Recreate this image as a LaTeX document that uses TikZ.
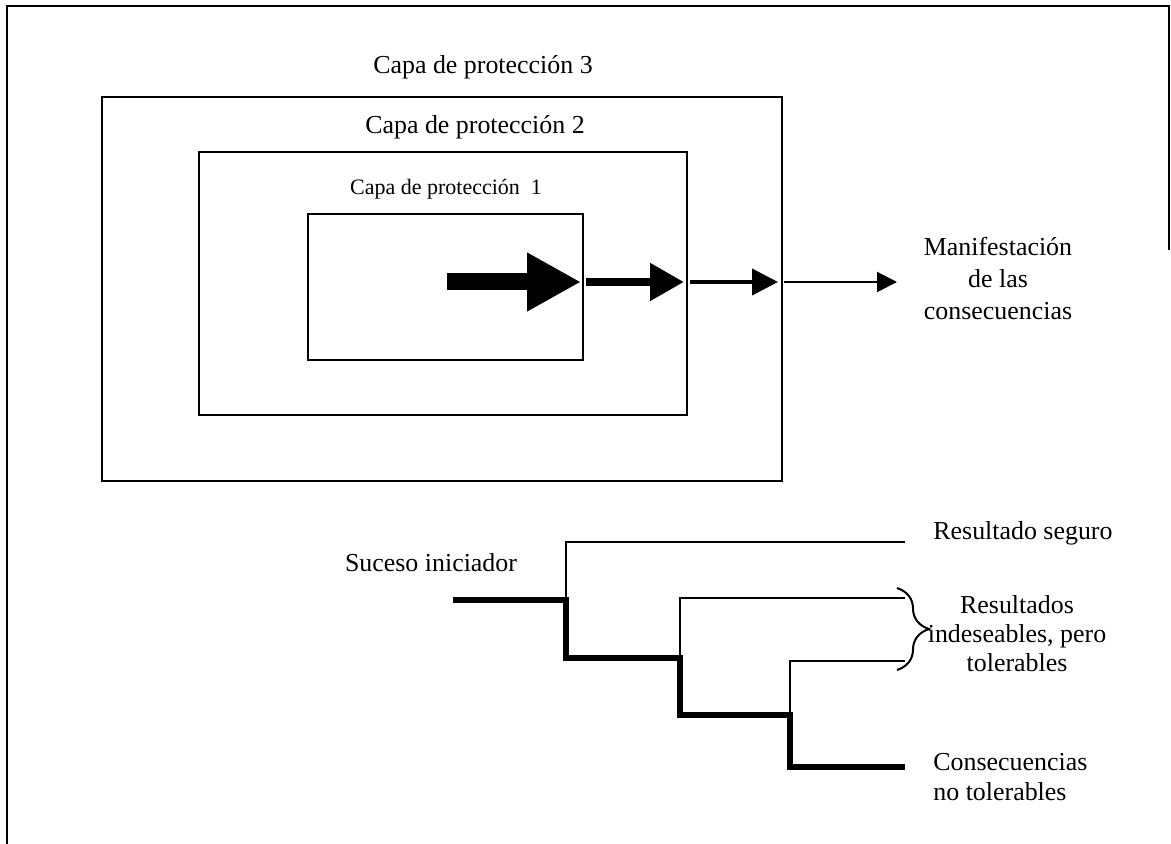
\documentclass[tikz,border=0pt]{standalone}
\usepackage{fontspec}
\setmainfont{Liberation Serif}
\usetikzlibrary{arrows.meta,decorations.pathreplacing}
\begin{document}
\begin{tikzpicture}[x=0.5pt,y=-0.5pt,
  box/.style={draw,line width=1pt,inner sep=0pt,outer sep=0pt},
  lbl/.style={inner sep=0pt,font=\fontsize{12.95}{16}\selectfont},
  thinline/.style={line width=1pt},
  thickline/.style={line width=2.8pt,line join=miter},
  brc/.style={line width=1pt,decorate,decoration={brace,amplitude=16pt,aspect=0.5}}]
\useasboundingbox (0,0) rectangle (1171,844);
% outer frame
\coordinate (f1) at (7,844);
\coordinate (f2) at (7,6);
\coordinate (f3) at (1169,6);
\coordinate (f4) at (1169,250);
\draw[line width=1pt] (f1) -- (f2) -- (f3) -- (f4);
% protection layers
\node[box,minimum width=340pt,minimum height=192pt] (b3) at (442,289) {};
\node[box,minimum width=244pt,minimum height=131.5pt] (b2) at (443,283.5) {};
\node[box,minimum width=137.5pt,minimum height=73pt] (b1) at (445.5,287) {};
\node[lbl] (t3) at (483,67) {Capa de protección 3};
\node[lbl] (t2) at (475,127) {Capa de protección 2};
\node[lbl,font=\fontsize{11}{13}\selectfont] (t1) at (446,189) {Capa de protección\ \ 1};
\node[lbl,align=center,font=\fontsize{12.95}{16}\selectfont] (m) at (998,279) {Manifestación\\de las\\consecuencias};
% arrows
\coordinate (s) at (447,282);
\coordinate (e) at (897,282);
\draw[line width=8.5pt,-{Triangle[length=27pt,width=27.5pt]},shorten >=1pt] (s) -- (s -| b1.east);
\draw[line width=4pt,-{Triangle[length=17pt,width=18pt]},shorten <=1.5pt,shorten >=1.5pt] (s -| b1.east) -- (s -| b2.east);
\draw[line width=2pt,-{Triangle[length=13pt,width=13pt]},shorten <=1.5pt,shorten >=2pt] (s -| b2.east) -- (s -| b3.east);
\draw[line width=1pt,-{Triangle[length=10pt,width=10pt]},shorten <=1pt] (s -| b3.east) -- (e);
% event tree
\coordinate (si) at (453,600);
\coordinate (j1) at (566,600);
\coordinate (j1t) at (566,542);
\coordinate (o1) at (905,542);
\coordinate (j1b) at (566,658);
\coordinate (j2) at (680,658);
\coordinate (j2t) at (680,598);
\coordinate (o2) at (905,598);
\coordinate (j2b) at (680,715);
\coordinate (j3) at (790,715);
\coordinate (j3t) at (790,661);
\coordinate (o3) at (905,661);
\coordinate (j3b) at (790,767);
\coordinate (o4) at (905,767);
\draw[thinline] (j1) -- (j1t) -- (o1);
\draw[thinline] (j2) -- (j2t) -- (o2);
\draw[thinline] (j3) -- (j3t) -- (o3);
\draw[thickline] (si) -- (j1) -- (j1b) -- (j2) -- (j2b) -- (j3) -- (j3b) -- (o4);
\coordinate (br1) at (897,588);
\coordinate (br2) at (897,670);
\draw[brc] (br1) -- (br2);
\node[lbl] (suc) at (431,563) {Suceso iniciador};
\node[lbl,anchor=west] (rs) at (933,533) {Resultado seguro};
\node[lbl,align=center,font=\fontsize{12.95}{14.5}\selectfont] (ri) at (1017,634) {Resultados\\indeseables, pero\\tolerables};
\node[lbl,align=left,anchor=west,font=\fontsize{12.95}{15}\selectfont] (cn) at (933,777) {Consecuencias\\no tolerables};
\end{tikzpicture}
\end{document}
